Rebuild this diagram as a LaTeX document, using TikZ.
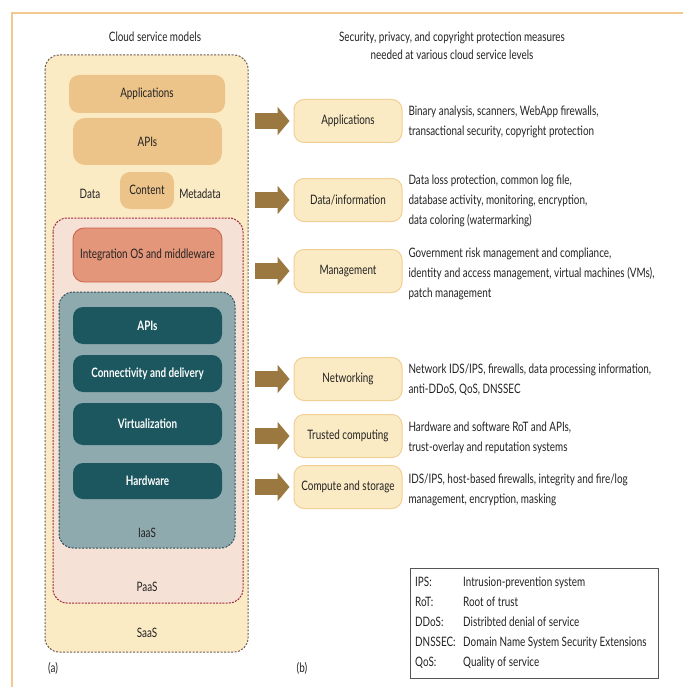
\documentclass[tikz,border=0pt]{standalone}
\usepackage{fontspec}
\setmainfont{Lato}[FakeStretch=0.76]
\usetikzlibrary{arrows.meta}
\definecolor{framec}{HTML}{F2C98E}
\definecolor{txt}{HTML}{222222}
\definecolor{saasfill}{HTML}{FBEBC5}
\definecolor{saasline}{HTML}{6B5A55}
\definecolor{tanfill}{HTML}{ECC48A}
\definecolor{paasfill}{HTML}{F6E1D6}
\definecolor{paasline}{HTML}{9B2B3A}
\definecolor{intfill}{HTML}{E4967A}
\definecolor{intline}{HTML}{C9604A}
\definecolor{iaasfill}{HTML}{8FAAAF}
\definecolor{iaasline}{HTML}{2D4D55}
\definecolor{tealfill}{HTML}{1C5760}
\definecolor{boxline}{HTML}{F2CF95}
\definecolor{arrowc}{HTML}{9B7840}
\definecolor{legline}{HTML}{555555}
\tikzset{
  measurebox/.style={draw=boxline, fill=saasfill, line width=1pt, rounded corners=10pt,
    minimum width=108pt, minimum height=43pt},
  blockarrow/.style={draw=arrowc, line width=16pt, shorten >=4pt,
    -{Triangle[length=12pt, width=28pt]}},
  measuretext/.style={anchor=west, align=left},
  layerlabel/.style={text=white, font=\fontsize{13}{20}\selectfont\bfseries},
}
\begin{document}
\begin{tikzpicture}[x=1pt, y=-1pt, every node/.style={font=\fontsize{13}{20}\selectfont, text=txt}]
\useasboundingbox (0,0) rectangle (683,687);
% frame
\draw[framec, line width=1.2pt] (683,13) -- (12,13) -- (12,687);

% headings
\node (lefthead) at (155,37) {Cloud service models};
\node[align=center, font=\fontsize{13}{18}\selectfont] (righthead) at (452,46) {Security, privacy, and copyright protection measures\\needed at various cloud service levels};

% SaaS
\draw[fill=saasfill, draw=saasline, line width=1pt, dash pattern=on 2pt off 1.5pt, rounded corners=14pt] (45,55) rectangle (248,652);
\draw[fill=tanfill, draw=none, rounded corners=10pt] (69,75) rectangle (225,113);
\node (sapps) at (147,94) {Applications};
\draw[fill=tanfill, draw=none, rounded corners=12pt] (73,118) rectangle (222,165);
\node (sapis) at (147.5,141.5) {APIs};
\draw[fill=tanfill, draw=none, rounded corners=10pt] (120,172) rectangle (174,209);
\node (content) at (147,190) {Content};
\node (data) at (90,194) {Data};
\node (metadata) at (200,194) {Metadata};
\node (saas) at (147,633) {SaaS};

% PaaS
\draw[fill=paasfill, draw=paasline, line width=1pt, dash pattern=on 2pt off 1.2pt, rounded corners=14pt] (53,218) rectangle (243,603);
\draw[fill=intfill, draw=intline, line width=0.8pt, rounded corners=11pt] (73,228) rectangle (222,282);
\node (integration) at (147.5,255) {Integration OS and middleware};
\node (paas) at (147,587) {PaaS};

% IaaS
\draw[fill=iaasfill, draw=iaasline, line width=1pt, dash pattern=on 2pt off 1.5pt, rounded corners=14pt] (59,292) rectangle (235,548);
\draw[fill=tealfill, draw=none, rounded corners=10pt] (73,307) rectangle (222,344);
\node[layerlabel] (iapis) at (147.5,325.5) {APIs};
\draw[fill=tealfill, draw=none, rounded corners=10pt] (73,355) rectangle (222,392);
\node[layerlabel] (connect) at (147.5,373.5) {Connectivity and delivery};
\draw[fill=tealfill, draw=none, rounded corners=10pt] (73,403) rectangle (222,445);
\node[layerlabel] (virtual) at (147.5,424) {Virtualization};
\draw[fill=tealfill, draw=none, rounded corners=10pt] (73,463) rectangle (222,499);
\node[layerlabel] (hardware) at (147.5,481) {Hardware};
\node (iaas) at (147,533) {IaaS};

% measures per level
\node[measurebox] (rapp) at (348,121) {Applications};
\node[measurebox] (rdata) at (348,200) {Data/information};
\node[measurebox] (rmgmt) at (348,271) {Management};
\node[measurebox] (rnet) at (348,379) {Networking};
\node[measurebox] (rtrust) at (348,436) {Trusted computing};
\node[measurebox] (rcomp) at (348,487) {Compute and storage};

\coordinate (a1) at (255,121);
\coordinate (a2) at (255,200);
\coordinate (a3) at (255,271);
\coordinate (a4) at (255,379);
\coordinate (a5) at (255,436);
\coordinate (a6) at (255,487);
\draw[blockarrow] (a1) -- (rapp.west);
\draw[blockarrow] (a2) -- (rdata.west);
\draw[blockarrow] (a3) -- (rmgmt.west);
\draw[blockarrow] (a4) -- (rnet.west);
\draw[blockarrow] (a5) -- (rtrust.west);
\draw[blockarrow] (a6) -- (rcomp.west);

\node[measuretext] (tapp) at (405,121.5) {Binary analysis, scanners, WebApp firewalls,\\transactional security, copyright protection};
\node[measuretext] (tdata) at (405,201) {Data loss protection, common log file,\\database activity, monitoring, encryption,\\data coloring (watermarking)};
\node[measuretext] (tmgmt) at (405,274) {Government risk management and compliance,\\identity and access management, virtual machines (VMs),\\patch management};
\node[measuretext] (tnet) at (405,379.5) {Network IDS/IPS, firewalls, data processing information,\\anti-DDoS, QoS, DNSSEC};
\node[measuretext] (ttrust) at (405,438) {Hardware and software RoT and APIs,\\trust-overlay and reputation systems};
\node[measuretext] (tcomp) at (405,489.5) {IDS/IPS, host-based firewalls, integrity and fire/log\\management, encryption, masking};

% legend
\draw[legline, line width=0.8pt] (410,568) rectangle (658,678);
\node[anchor=west, align=left, inner sep=0pt] (legend) at (415,623)
  {\makebox[48pt][l]{IPS:}Intrusion-prevention system\\
   \makebox[48pt][l]{RoT:}Root of trust\\
   \makebox[48pt][l]{DDoS:}Distribted denial of service\\
   \makebox[48pt][l]{DNSSEC:}Domain Name System Security Extensions\\
   \makebox[48pt][l]{QoS:}Quality of service};

% panel labels
\node (pa) at (53,668) {(a)};
\node (pb) at (302,668) {(b)};
\end{tikzpicture}
\end{document}
